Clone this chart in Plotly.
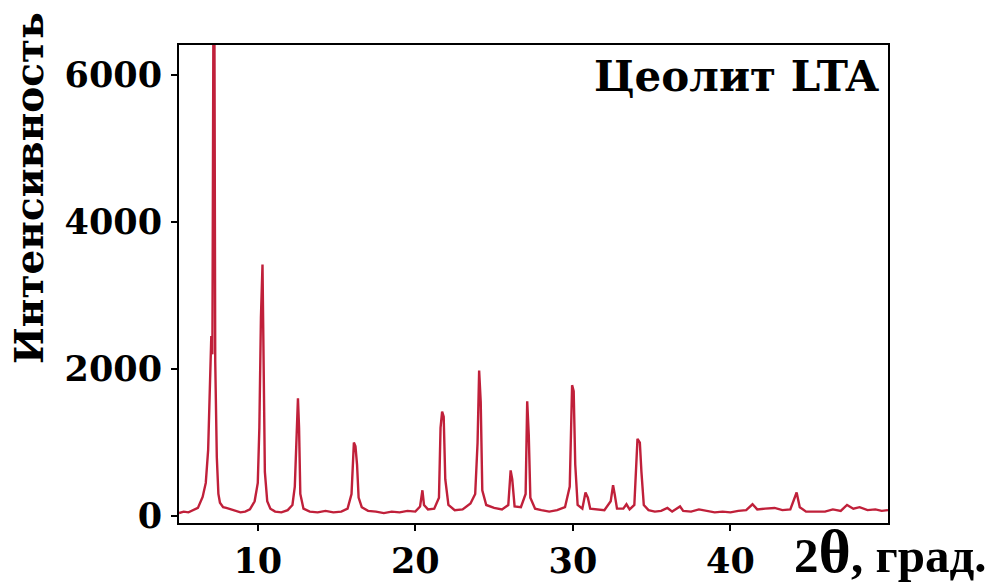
import plotly.graph_objects as go

two_theta = [
    5.0, 5.3, 5.6, 5.9, 6.2, 6.5, 6.7, 6.85, 6.95, 7.05, 7.12, 7.18, 7.25, 7.3, 7.4, 7.5, 7.6,
    7.8, 8.0, 8.3, 8.6, 8.9, 9.2, 9.5, 9.8, 10.0, 10.1, 10.2, 10.3, 10.38, 10.45, 10.6,
    10.8, 11.1, 11.5, 11.9, 12.2, 12.35, 12.45, 12.55, 12.62, 12.7, 12.9,
    13.3, 13.8, 14.3, 14.8, 15.3, 15.7, 15.95, 16.1, 16.2, 16.3, 16.4, 16.6,
    17.0, 17.5, 18.0, 18.5, 19.0, 19.5, 20.0, 20.3, 20.45, 20.55, 20.8,
    21.2, 21.5, 21.6, 21.7, 21.8, 21.9, 22.1, 22.5, 23.0, 23.5, 23.8, 23.95, 24.05, 24.15,
    24.25, 24.5, 25.0, 25.5, 25.9, 26.05, 26.15, 26.3, 26.7, 27.0, 27.1, 27.2, 27.3,
    27.6, 28.0, 28.5, 29.0, 29.5, 29.8, 29.95, 30.05, 30.15, 30.3, 30.6, 30.8, 30.95,
    31.1, 31.6, 32.0, 32.4, 32.55, 32.65, 32.8, 33.2, 33.4, 33.6, 33.9, 34.1, 34.25,
    34.35, 34.5, 34.8, 35.2, 35.6, 36.0, 36.3, 36.8, 37.0, 37.5, 38.0, 38.5, 39.0,
    39.5, 40.0, 40.5, 41.0, 41.4, 41.7, 42.2, 42.8, 43.3, 43.8, 44.2, 44.4, 44.8,
    45.5, 46.0, 46.5, 47.0, 47.4, 47.8, 48.2, 48.7, 49.2, 49.6, 50.0,
]
intensity = [
    40, 60, 50, 80, 110, 260, 450, 900, 1600, 2450, 2200, 6500, 6500, 2100, 800, 300, 180,
    120, 110, 90, 60, 50, 60, 90, 200, 450, 1200, 2700, 3420, 1600, 600, 200,
    100, 60, 50, 80, 150, 400, 1150, 1600, 1200, 300, 100,
    60, 50, 70, 50, 60, 100, 300, 1000, 950, 700, 250, 120,
    70, 60, 40, 60, 50, 70, 60, 130, 350, 150, 90,
    100, 250, 1200, 1420, 1350, 500, 150, 80, 90, 170, 300, 1000, 1980, 1550,
    350, 150, 110, 90, 150, 620, 500, 130, 120, 300, 1560, 1100, 250,
    100, 80, 60, 80, 120, 400, 1780, 1700, 700, 150, 100, 320, 250,
    100, 90, 80, 200, 420, 300, 100, 100, 160, 90, 150, 1050, 1000,
    600, 150, 80, 60, 70, 110, 60, 130, 70, 60, 90, 70, 50,
    60, 50, 70, 80, 160, 90, 100, 110, 80, 90, 320, 120, 60,
    60, 60, 90, 70, 150, 100, 120, 80, 90, 70, 80,
]

x_ticks = [10, 20, 30, 40]
y_ticks = [0, 2000, 4000, 6000]
title_text = "Цеолит LTA"
y_title = "Интенсивность"
x_title = "2<span style='font-size:62px'>θ</span>, град."

W, H = 991, 587
ML, MR, MT, MB = 179, 103, 45, 64
pw, ph = W - ML - MR, H - MT - MB


def px_x(v):
    return (v - ML) / pw


def px_y(v):
    return (H - MB - v) / ph


fig = go.Figure()
fig.add_trace(go.Scatter(
    x=two_theta, y=intensity, mode="lines",
    line=dict(color="#c0203a", width=2.4),
    showlegend=False, hoverinfo="skip",
))

tick_font = dict(family="DejaVu Serif", size=35, color="black", weight="bold")

fig.update_layout(
    width=W, height=H,
    margin=dict(l=ML, r=MR, t=MT, b=MB, autoexpand=False),
    paper_bgcolor="white", plot_bgcolor="white",
    xaxis=dict(
        range=[5, 50], tickvals=x_ticks, ticks="outside", ticklen=6, tickwidth=2,
        tickcolor="black", showline=True, linecolor="black", linewidth=2, mirror=True,
        showgrid=False, zeroline=False, tickfont=tick_font,
    ),
    yaxis=dict(
        range=[-95, 6408], tickvals=y_ticks, ticks="outside", ticklen=6, tickwidth=2,
        tickcolor="black", showline=True, linecolor="black", linewidth=2, mirror=True,
        showgrid=False, zeroline=False, tickfont=tick_font, ticklabelstandoff=2,
    ),
    annotations=[
        dict(text=title_text, x=px_x(882), y=px_y(50), xref="paper", yref="paper",
             xanchor="right", yanchor="top", showarrow=False,
             font=dict(family="DejaVu Serif", size=42, color="black", weight="bold")),
        dict(text=y_title, x=px_x(29), y=px_y(188), xref="paper", yref="paper",
             showarrow=False, textangle=-90, xanchor="center", yanchor="middle",
             font=dict(family="DejaVu Serif", size=39, color="black", weight="bold")),
        dict(text=x_title, x=px_x(988), y=px_y(587), xref="paper", yref="paper",
             showarrow=False, xanchor="right", yanchor="bottom",
             font=dict(family="Liberation Serif", size=49, color="black", weight="bold")),
    ],
)

fig.write_html(
    "out.html",
    config={"displayModeBar": False},
    post_script="document.body.style.margin='0';document.body.style.overflow='hidden';",
)
